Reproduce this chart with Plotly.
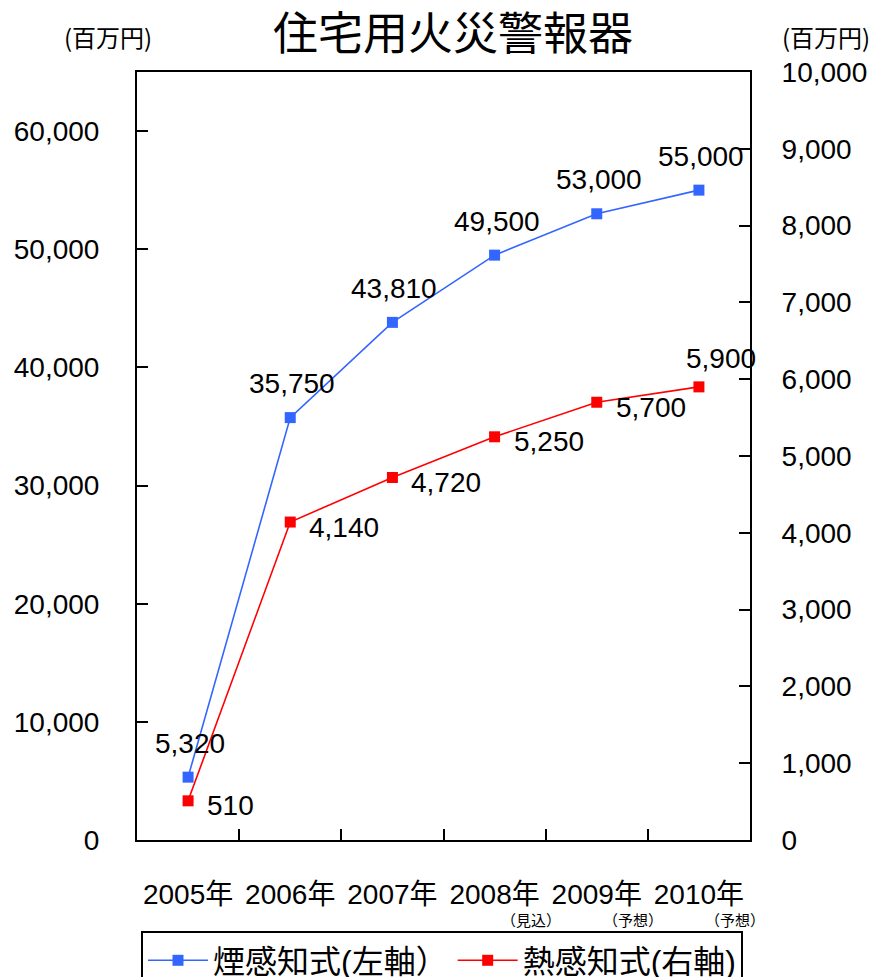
import plotly.graph_objects as go

# 住宅用火災警報器の市場規模（百万円）
years = ["2005年", "2006年", "2007年", "2008年", "2009年", "2010年"]
year_notes = ["", "", "", "（見込）", "（予想）", "（予想）"]
smoke = [5320, 35750, 43810, 49500, 53000, 55000]   # 煙感知式（左軸）
heat = [510, 4140, 4720, 5250, 5700, 5900]          # 熱感知式（右軸）

left_ticks = [0, 10000, 20000, 30000, 40000, 50000, 60000]
right_ticks = [0, 1000, 2000, 3000, 4000, 5000, 6000, 7000, 8000, 9000, 10000]

BLUE = "#3366ff"
RED = "#ff0000"
FONT = "Liberation Sans, Arial, Noto Sans CJK JP"
CJK = "Noto Sans CJK JP"

W, H = 875, 977
L, R, T, B = 137, 125, 72, 137
PW, PH = W - L - R, H - T - B


def px_to_paper(xpx, ypx):
    return (xpx - L) / PW, (H - B - ypx) / PH


fig = go.Figure()
fig.add_trace(go.Scatter(
    x=years, y=smoke, name="煙感知式(左軸）", mode="lines+markers",
    line=dict(color=BLUE, width=1.6),
    marker=dict(symbol="square", size=11, color=BLUE),
    yaxis="y",
))
fig.add_trace(go.Scatter(
    x=years, y=heat, name="熱感知式(右軸)", mode="lines+markers",
    line=dict(color=RED, width=1.6),
    marker=dict(symbol="square", size=11, color=RED),
    yaxis="y2",
))

annotations = []
# value labels for smoke detectors: centred above each point
for yr, v in zip(years, smoke):
    annotations.append(dict(
        x=yr, y=v, xref="x", yref="y", text=f"{v:,}", showarrow=False,
        xanchor="center", yanchor="middle", xshift=2, yshift=34,
        font=dict(size=28, color="black", family=FONT),
    ))
# value labels for heat detectors: to the lower right, last one above
for i, (yr, v) in enumerate(zip(years, heat)):
    last = i == len(heat) - 1
    annotations.append(dict(
        x=yr, y=v, xref="x", yref="y2", text=f"{v:,}",
        showarrow=False,
        xanchor="center" if last else "left",
        yanchor="middle",
        xshift=22 if last else 17,
        yshift=28 if last else -5,
        font=dict(size=28, color="black", family=FONT),
    ))
# small notes under the year labels
for yr, note in zip(years, year_notes):
    if note:
        annotations.append(dict(
            x=yr, y=0, xref="x", yref="paper", text=note, showarrow=False,
            xanchor="center", yanchor="top", xshift=36, yshift=-67,
            font=dict(size=15, color="black", family=CJK),
        ))
# unit labels above both value axes
for xpx in (108, 826):
    ux, uy = px_to_paper(xpx, 37)
    annotations.append(dict(
        x=ux, y=uy, xref="paper", yref="paper",
        text="(百万円)", showarrow=False, xanchor="center", yanchor="middle",
        font=dict(size=24, color="black", family=CJK),
    ))

lx, ly = px_to_paper(442, 931)

fig.update_layout(
    width=W, height=H,
    margin=dict(l=L, r=R, t=T, b=B, autoexpand=False),
    paper_bgcolor="white", plot_bgcolor="white",
    font=dict(family=FONT, size=28, color="black"),
    title=dict(
        text="住宅用火災警報器", x=451 / W, xanchor="center",
        y=1 - 34 / H, yanchor="middle", xref="paper",
        font=dict(size=45, color="black", family=CJK),
    ),
    showlegend=True,
    legend=dict(
        orientation="h", x=lx, xanchor="center", y=ly, yanchor="top",
        bordercolor="black", borderwidth=2, bgcolor="white",
        font=dict(size=32, color="black", family=FONT),
        itemwidth=60, tracegroupgap=0,
    ),
    xaxis=dict(
        type="category", range=[-0.5, 5.5],
        showline=True, linecolor="black", linewidth=2,
        mirror=True, ticks="inside", ticklen=11, tickwidth=1.5, tickcolor="black",
        tickson="boundaries", showgrid=False, zeroline=False, tickangle=0,
        tickfont=dict(size=28, family=FONT), ticklabelstandoff=28,
    ),
    yaxis=dict(
        range=[0, 65000], tickvals=left_ticks, tickformat=",d",
        showline=True, linecolor="black", linewidth=2,
        ticks="inside", ticklen=11, tickwidth=1.5, tickcolor="black",
        showgrid=False, zeroline=False,
        tickfont=dict(size=28, family=FONT), ticklabelstandoff=30,
    ),
    yaxis2=dict(
        range=[0, 10000], tickvals=right_ticks, tickformat=",d",
        overlaying="y", side="right",
        showline=True, linecolor="black", linewidth=2,
        ticks="inside", ticklen=11, tickwidth=1.5, tickcolor="black",
        showgrid=False, zeroline=False,
        tickfont=dict(size=28, family=FONT), ticklabelstandoff=24,
    ),
    annotations=annotations,
)

fig.write_html("out.html")
